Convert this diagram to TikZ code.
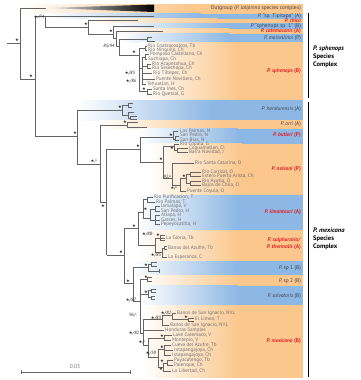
\documentclass[tikz,border=0pt]{standalone}
\usepackage{fontspec}
\setmainfont{PT Sans}
\newfontfamily\symfont{DejaVu Sans}
\usetikzlibrary{shadings}
\definecolor{orng}{RGB}{251,199,140}
\definecolor{blu}{RGB}{141,183,228}
\definecolor{treeg}{RGB}{100,100,100}
\definecolor{labg}{RGB}{112,112,112}
\definecolor{spg}{RGB}{65,65,75}
\definecolor{spred}{RGB}{228,32,38}
\newcommand\stx{{\symfont\fontsize{4.2}{4}\selectfont ★}}
\newcommand\tipfont{\fontsize{5.1}{5.1}\selectfont}
\newcommand\supfont{\fontsize{4.6}{4.6}\selectfont}
\newcommand\spfont{\fontsize{5.4}{5.4}\selectfont}
\newcommand\cxfont{\fontsize{6.5}{6.5}\selectfont\bfseries}
\newcommand\band[4]{%
  \shade[left color=white,right color=#1] (#2,#3) rectangle ({#2+0.6*(303-#2)+0.4},#4);
  \fill[#1] ({#2+0.6*(303-#2)},#3) rectangle (303,#4);}
\begin{document}
\begin{tikzpicture}[x=1pt,y=-1pt,
  br/.style={draw=treeg,line width=0.65pt},
  tip/.style={anchor=west,inner sep=0pt,font=\tipfont,text=labg,text height=3.6pt,text depth=1.1pt},
  sup/.style={inner sep=0pt,font=\supfont,text=black!85},
  sp/.style={anchor=east,inner sep=0pt,font=\spfont,text=spg,text height=3.9pt,text depth=1.2pt},
  spr/.style={sp,font=\spfont\bfseries,text=spred},
  cx/.style={anchor=base west,inner sep=0pt,font=\cxfont,text=black}]
\useasboundingbox (0,0) rectangle (360,380);
% ---------- bands ----------
\band{orng}{20}{4}{13.5}
\band{blu}{46}{13.5}{18.5}
\band{orng}{88}{18.5}{23}
\band{blu}{113}{23}{28.5}
\band{orng}{116}{28.5}{33.5}
\band{blu}{119}{33.5}{42}
\band{orng}{139}{42}{100}
\band{blu}{77}{100}{120}
\band{orng}{100}{120}{128.5}
\band{blu}{140}{128.5}{143.5}
\band{orng}{150}{143.5}{195}
\band{blu}{138}{195}{230}
\band{orng}{140}{230}{261}
\band{blu}{133}{261}{275}
\band{orng}{140}{275}{285.5}
\band{blu}{140}{285.5}{305}
\band{orng}{143}{305}{377.5}
% ---------- tree: root and sphenops complex ----------
\draw[br] (7,43)--(20,43) (20,8)--(20,79) (20,8)--(46,8);
\shade[left color=gray!15,right color=black] (46,8)--(154,4.5)--(154,12)--cycle;
\draw[br] (20,79)--(35,79) (35,16)--(35,136);
\draw[br] (35,16)--(154,16) (45.5,16)--(45.5,27)--(88,27);
\draw[br] (88,20)--(138,20) (88,20)--(88,34)--(113,34);
\draw[br] (113,26)--(154,26) (113,26)--(113,38)--(116,38);
\draw[br] (116,31)--(163,31) (116,31)--(116,46)--(119,46);
\draw[br] (119,39)--(147,39) (119,39)--(119,55)--(139,55);
\draw[br] (147,37)--(147,41) (147,37)--(152,37) (147,41)--(155,41);
\draw[br] (139,48)--(139,91);
\draw[br] (139,48)--(145,48) (145,46)--(145,50) (145,46)--(147,46) (145,50)--(147,50);
\draw[br] (139,68)--(142,68) (142,57)--(142,84);
\draw[br] (142,57)--(145,57) (145,54.5)--(145,59) (145,54.5)--(149,54.5) (145,59)--(147,59);
\draw[br] (142,66)--(147,66) (147,64)--(147,68.5) (147,64)--(151,64) (147,68.5)--(151,68.5);
\draw[br] (142,73)--(152,73) (142,79)--(155,79) (142,84)--(146,84);
\draw[br] (139,91)--(147,91) (147,89.5)--(147,94) (147,89.5)--(152,89.5) (147,94)--(152,94);
% ---------- mexicana complex ----------
\draw[br] (35,136)--(77,136) (77,110)--(77,164);
\draw[br] (77,110)--(122,110) (122,105)--(122,115);
\draw[br] (122,105)--(128,105) (128,103)--(128,107) (128,103)--(133,103) (128,107)--(132,107);
\draw[br] (122,115)--(128,115) (128,112)--(128,118) (128,112)--(134,112) (128,118)--(130,118) (130,116.5)--(130,119.5) (130,116.5)--(137,116.5) (130,119.5)--(137,119.5);
\draw[br] (77,164)--(100,164) (100,125)--(100,202);
\draw[br] (100,125)--(127,125) (127,122.5)--(127,127.5) (127,122.5)--(138,122.5) (127,127.5)--(147,127.5);
\draw[br] (100,202)--(106.5,202) (106.5,149)--(106.5,255);
\draw[br] (106.5,149)--(140,149) (140,137)--(140,162);
\draw[br] (140,137)--(173,137) (173,131)--(173,139) (173,131)--(178,131) (173,139)--(175,139) (175,136)--(175,140) (175,136)--(179,136) (175,140)--(179,140);
\draw[br] (140,162)--(163,162) (163,146)--(163,178);
\draw[br] (163,146)--(174,146) (174,144.5)--(174,150) (174,144.5)--(179,144.5) (174,150)--(177,150) (177,148.5)--(177,152.5) (177,148.5)--(188,148.5) (177,152.5)--(188,152.5);
\draw[br] (163,178)--(172,178) (172,163)--(172,185) (172,163)--(194,163);
\draw[br] (172,185)--(180,185) (180,178.5)--(180,191) (180,191)--(186,191);
\draw[br] (180,178.5)--(186,178.5) (186,174)--(186,183.5);
\draw[br] (186,174)--(190,174) (190,172)--(190,176.5) (190,172)--(201,172) (190,176.5)--(201,176.5);
\draw[br] (186,183.5)--(190,183.5) (190,181)--(190,185.5) (190,181)--(201,181) (190,185.5)--(201,185.5);
\draw[br] (106.5,255)--(124,255) (124,228)--(124,283);
\draw[br] (124,228)--(138,228) (138,212)--(138,245);
\draw[br] (138,212)--(143,212) (143,199.5)--(143,218);
\draw[br] (143,199.5)--(147,199.5) (147,197)--(147,202) (147,197)--(153,197) (147,202)--(155,202);
\draw[br] (143,218)--(150,218) (150,209)--(150,220);
\draw[br] (150,209)--(155,209) (155,206.5)--(155,211) (155,206.5)--(160,206.5) (155,211)--(160,211);
\draw[br] (150,220)--(155,220) (155,215.5)--(155,224.5) (155,215.5)--(160,215.5) (155,220)--(160,220) (155,224.5)--(160,224.5);
\draw[br] (138,245)--(155,245) (155,238)--(155,252);
\draw[br] (155,238)--(160,238) (160,235.5)--(160,240.5) (160,235.5)--(165,235.5) (160,238)--(165,238) (160,240.5)--(165,240.5);
\draw[br] (155,252)--(162,252) (162,248)--(162,257) (162,248)--(164,248) (164,246.5)--(164,249.5) (164,246.5)--(167,246.5) (164,249.5)--(167,249.5) (162,257)--(167,257);
\draw[br] (124,283)--(133,283) (133,267)--(133,301);
\draw[br] (133,267)--(148,267) (148,264)--(148,271) (148,264)--(151,264) (151,262.5)--(151,266) (151,262.5)--(157,262.5) (151,266)--(157,266) (148,271)--(159,271) (159,269)--(159,273);
\draw[br] (133,301)--(140,301) (140,279)--(140,333);
\draw[br] (140,279)--(147,279) (147,277)--(147,281.5) (147,277)--(152,277) (147,281.5)--(152,281.5);
\draw[br] (140,294)--(148,294) (148,290.5)--(148,297.5) (148,290.5)--(151,290.5) (151,289)--(151,292) (151,289)--(156,289) (151,292)--(156,292) (148,297.5)--(151,297.5) (151,296)--(151,299) (151,296)--(155,296) (151,299)--(155,299);
\draw[br] (140,333)--(143,333) (143,319)--(143,345);
\draw[br] (143,319)--(162,319) (162,315)--(162,325) (162,325)--(169,325);
\draw[br] (162,315)--(172,315) (172,313)--(172,319.5) (172,313)--(176,313) (172,319.5)--(188,319.5) (188,318)--(188,321) (188,318)--(194,318) (188,321)--(194,321);
\draw[br] (143,330)--(164,330);
\draw[br] (143,345)--(148,345) (148,338)--(148,357);
\draw[br] (148,338)--(164,338) (164,335.5)--(164,340) (164,335.5)--(172,335.5) (164,340)--(171,340);
\draw[br] (148,357)--(158,357) (158,349)--(158,367);
\draw[br] (158,349)--(164,349) (164,345.5)--(164,355) (164,345.5)--(171,345.5) (164,350.5)--(173,350.5) (164,355)--(171,355);
\draw[br] (158,367)--(163,367) (163,363)--(163,371) (163,363)--(167,363) (167,360.5)--(167,365.5) (167,360.5)--(173,360.5) (167,365.5)--(173,365.5) (163,371)--(171,371);
% ---------- tip labels ----------
\node[tip] (t1) at (148,46) {Rio Coatzacoalcos, Tb};
\node[tip] (t2) at (148,50) {Rio Ningullo, Ch};
\node[tip] (t3) at (150,54.5) {Pomposo Castellano, Ch};
\node[tip] (t4) at (148,59) {Suchiapa, Ch};
\node[tip] (t5) at (152,64) {Rio Acapetahua, Ch};
\node[tip] (t6) at (152,68.5) {Rio Sesechapa, Ch};
\node[tip] (t7) at (153,73) {Rio Tiltepec, Ch};
\node[tip] (t8) at (156,79) {Puente Novillero, Ch};
\node[tip] (t9) at (147,84) {Tehuatlan, H};
\node[tip] (t10) at (153,89.5) {Santa Ines, Ch};
\node[tip] (t11) at (153,94) {Rio Quetzal, G};
\node[tip] (t12) at (180,131) {Las Palmas, N};
\node[tip] (t13) at (180,135.5) {San Pedro, N};
\node[tip] (t14) at (180,140) {San Blas, N};
\node[tip] (t15) at (180,144.5) {Rio Copala, G};
\node[tip] (t16) at (189,148.5) {Coguamatlan, Cl};
\node[tip] (t17) at (189,152.5) {Barra Navidad, J};
\node[tip] (t18) at (195,163) {Rio Santa Catarina, O};
\node[tip] (t19) at (202,172) {Rio Carrizal, O};
\node[tip] (t20) at (202,176.5) {Estero Puerto Arista, Ch};
\node[tip] (t21) at (202,181) {Rio Ayutla, O};
\node[tip] (t22) at (202,185.5) {Bajos de Chila, O};
\node[tip] (t23) at (187,191) {Puente Coyula, O};
\node[tip] (t24) at (154,197) {Rio Purificacion, T};
\node[tip] (t25) at (156,202) {Rio Palmas, T};
\node[tip] (t26) at (161,206.5) {Jamalapa, V};
\node[tip] (t27) at (161,211) {San Pedro, H};
\node[tip] (t28) at (161,215.5) {Atlapa, H};
\node[tip] (t29) at (161,220) {Garces, H};
\node[tip] (t30) at (161,224.5) {Pepeyocatitla, H};
\node[tip] (t31) at (166,238) {La Gloria, Tb};
\node[tip] (t32) at (168,248) {Banos del Azufre, Tb};
\node[tip] (t33) at (168,257) {La Esperanza, C};
\node[tip] (t34) at (177,313) {Banos de San Ignacio, NVL};
\node[tip] (t35) at (195,319.5) {El Limon, T};
\node[tip] (t36) at (170,325) {Banos de San Ignacio, NVL};
\node[tip] (t37) at (165,330) {Honduras Samples};
\node[tip] (t38) at (173,335.5) {Lake Catemaco, V};
\node[tip] (t39) at (172,340) {Montepio, V};
\node[tip] (t40) at (172,345.5) {Cueva del Azufre, Tb};
\node[tip] (t41) at (174,350.5) {Ixtapangajoya, Ch};
\node[tip] (t42) at (172,355) {Ixtapangajoya, Ch};
\node[tip] (t43) at (174,360.5) {Puyacatengo, Tb};
\node[tip] (t44) at (174,365.5) {Palenque, Ch};
\node[tip] (t45) at (172,371) {La Libertad, Ch};
% ---------- support values ----------
\node[sup] (s1) at (17,40) {\stx};
\node[sup] (s2) at (31,76) {\stx};
\node[sup] (s3) at (39,17) {\stx\textit{/74}};
\node[sup] (s4) at (86,24) {\stx};
\node[sup] (s5) at (111,31) {\stx};
\node[sup] (s6) at (109,46) {\textit{85/94}};
\node[sup] (s7) at (134,52) {\stx};
\node[sup] (s8) at (130,73) {\stx\textit{/85}};
\node[sup] (s9) at (131,81) {\stx\textit{/86}};
\node[sup] (s10) at (144,89) {\stx};
\node[sup] (s11) at (75,133) {\stx};
\node[sup] (s12) at (120,107) {\stx};
\node[sup] (s13) at (94,161) {\stx\textit{/-}};
\node[sup] (s14) at (125,122) {\stx};
\node[sup] (s15) at (103,206) {\stx};
\node[sup] (s16) at (138,146) {\stx};
\node[sup] (s17) at (171,135) {\stx};
\node[sup] (s18) at (172,148) {\stx};
\node[sup] (s19) at (161,159) {\stx};
\node[sup] (s20) at (167.5,177) {\textit{92/-}};
\node[sup] (s21) at (184,176) {\stx};
\node[sup] (s22) at (174,188.5) {\stx\textit{/-}};
\node[sup] (s23) at (145.5,209) {\stx};
\node[sup] (s24) at (134,226) {\stx};
\node[sup] (s25) at (148,234) {\stx\textit{/88-}};
\node[sup] (s26) at (158,234.5) {\stx};
\node[sup] (s27) at (156,255) {\stx\textit{/85}};
\node[sup] (s28) at (121,252) {\stx};
\node[sup] (s29) at (128,281) {\stx};
\node[sup] (s30) at (146,265) {\stx};
\node[sup] (s31) at (146,277) {\stx};
\node[sup] (s32) at (146,292) {\stx};
\node[sup] (s33) at (131,300) {\stx\textit{/87}};
\node[sup] (s34) at (133,315) {\textit{96/-}};
\node[sup] (s35) at (134,333) {\stx\textit{/82}};
\node[sup] (s36) at (142,342) {\stx\textit{/-}};
\node[sup] (s37) at (151,353) {\stx\textit{/59}};
\node[sup] (s38) at (156,318) {\stx\textit{/83}};
\node[sup] (s39) at (166,313) {\stx\textit{/82}};
\node[sup] (s40) at (186,317) {\stx};
\node[sup] (s41) at (162,336) {\stx};
\node[sup] (s42) at (162,347) {\stx};
\node[sup] (s43) at (162,361) {\stx};
\node[sup] (s44) at (161,369) {\stx};
% ---------- species labels ----------
\node[sp] (l1) at (301,8.5) {Outgroup (\textit{P. latipinna} species complex)};
\node[sp] (l2) at (301,16) {\textit{P.} “sp. Tipitapa” (A)};
\node[spr] (l3) at (301,21) {\textit{P. chica}};
\node[sp] (l4) at (301,26) {\textit{P.} “sphenops sp. 1” (B)};
\node[spr] (l5) at (301,31) {\textit{P. catemaconis} (A)};
\node[sp] (l6) at (301,38.5) {\textit{P. marcellinoi} (P)};
\node[spr] (l7) at (301,71) {\textit{P. sphenops} (B)};
\node[sp] (l8) at (301,109) {\textit{P. hondurensis} (A)};
\node[sp] (l9) at (301,124.5) {\textit{P. orri} (A)};
\node[spr] (l10) at (301,135.5) {\textit{P. butleri} (P)};
\node[spr] (l11) at (301,169) {\textit{P. nelsoni} (P)};
\node[spr] (l12) at (301,212) {\textit{P. limantouri} (A)};
\node[spr] (l13) at (301,240) {\textit{P. sulphuraria/}};
\node[spr] (l14) at (301,247) {\textit{P. thermalis} (A)};
\node[sp] (l15) at (301,268) {\textit{P.} sp 1 (B)};
\node[sp] (l16) at (301,281) {\textit{P.} sp 2 (B)};
\node[sp] (l17) at (301,296) {\textit{P. salvatoris} (B)};
\node[spr] (l18) at (301,341) {\textit{P. mexicana} (B)};
% ---------- complex brackets ----------
\draw[line width=1pt] (308,13)--(308,98);
\draw[line width=1pt] (308,102)--(308,377);
\node[cx] (c1) at (313,50.2) {\textit{P. sphenops}};
\node[cx] (c2) at (313,58.2) {Species};
\node[cx] (c3) at (313,66.2) {Complex};
\node[cx] (c4) at (313,232.5) {\textit{P. mexicana}};
\node[cx] (c5) at (313,240.5) {Species};
\node[cx] (c6) at (313,248.5) {Complex};
% ---------- scale bar ----------
\coordinate (sbA) at (21,372);
\coordinate (sbB) at (130,372);
\draw[treeg,line width=0.6pt] (sbA)--(sbB) (21,370)--(21,374) (130,370)--(130,374);
\node[inner sep=0pt,font=\fontsize{5.5}{5.5}\selectfont,text=labg] (sbl) at (75,367) {0.03};
\end{tikzpicture}
\end{document}
